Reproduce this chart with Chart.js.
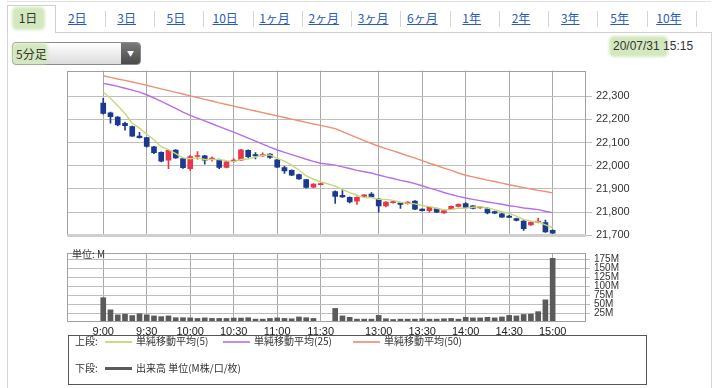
<!DOCTYPE html>
<html><head><meta charset="utf-8">
<script src="https://cdn.jsdelivr.net/npm/chart.js@4.4.1/dist/chart.umd.min.js"></script>
<style>
html,body{margin:0;padding:0;background:#fff;}
body{width:722px;height:388px;position:relative;overflow:hidden;font-family:"Noto Sans CJK JP","Liberation Sans",sans-serif;color:#333;}
.abs{position:absolute;}
.tab{position:absolute;top:10px;font-size:12px;line-height:16px;color:#2a5bb5;text-decoration:underline;white-space:nowrap;transform:translateX(-50%);}
.tab.sel{color:#333;text-decoration:none;}
.sep{position:absolute;top:11px;width:1px;height:16px;background:#d4d4d4;}
.hl{background:#d3e8bf;box-shadow:0 0 3px 2px #d3e8bf;border-radius:3px;}
canvas{position:absolute;}
.lg{position:absolute;font-size:10px;line-height:12px;color:#333;white-space:nowrap;}
.ls{position:absolute;height:2px;}
</style></head>
<body>
<!-- tab strip -->
<div class="abs" style="left:7px;top:1px;width:704px;height:1px;background:#e2e2e2"></div>
<div class="abs" style="left:7px;top:5px;width:47px;height:27px;border:1px solid #cfcfcf;border-bottom:none;background:#fff"></div>
<div class="abs hl" style="left:14px;top:9px;width:29px;height:19px"></div>
<div class="abs" style="left:55px;top:32px;width:657px;height:1px;background:#cfcfcf"></div>
<div class="abs" style="left:7px;top:32px;width:1px;height:356px;background:#d6d6d6"></div>
<div class="abs" style="left:711px;top:32px;width:1px;height:356px;background:#d6d6d6"></div>
<div id="tabs"></div>
<!-- selector -->
<div class="abs" style="left:12px;top:42px;width:127px;height:21px;border:1px solid #8a8a8a;border-radius:4px;background:linear-gradient(#ffffff,#dcdcdc);overflow:hidden">
  <div class="abs" style="right:0;top:0;width:19px;height:21px;background:linear-gradient(#7a7a7a,#4a4a4a);color:#fff;font-size:7px;line-height:21px;text-align:center">&#9660;</div>
</div>
<div class="abs hl" style="left:14px;top:45px;width:32px;height:17px"></div>
<div class="abs" style="left:16px;top:45px;font-size:12px;line-height:17px;color:#333">5分足</div>
<div class="abs hl" style="left:611px;top:38px;width:55px;height:17px"></div>
<div class="abs" style="left:613px;top:38px;font-size:12px;line-height:17px;color:#333;font-family:'Liberation Sans',sans-serif;white-space:nowrap">20/07/31&nbsp;15:15</div>

<canvas id="price" width="579" height="186" style="left:67px;top:60px;width:579px;height:186px"></canvas>
<canvas id="vol" width="579" height="96" style="left:67px;top:243px;width:579px;height:96px"></canvas>
<div class="abs" style="left:72px;top:248px;font-size:10px;line-height:12px;color:#333">単位: M</div>

<!-- legend -->
<div class="abs" style="left:68px;top:335px;width:577px;height:48px;border:1px solid #555;background:#fff"></div>
<div id="legend"></div>

<script>
// ---------- data ----------
const periodTabs = ['1日','2日','3日','5日','10日','1ヶ月','2ヶ月','3ヶ月','6ヶ月','1年','2年','3年','5年','10年'];
const timeLabels = ['9:00','9:30','10:00','10:30','11:00','11:30','13:00','13:30','14:00','14:30','15:00'];
const timeLabelSlots = [0,6,12,18,24,30,38,44,50,56,62];
const priceTicks = [21700,21800,21900,22000,22100,22200,22300];
const volumeTicks = [25,50,75,100,125,150,175];
// 5-minute slots 9:00..11:30, one empty slot, 12:30..15:00
const opens = [22270,22228,22210,22183,22169,22128,22121,22082,22058,22024,
  22068,22031,21988,22040,22043,22028,22024,21993,22020,22024,
  22067,22048,22042,22050,22026,21992,21980,21962,21940,21908,
  21919,null,21889,21873,21864,21848,21868,21878,21857,21827,
  21841,21840,21837,21848,21813,21807,21816,21797,21814,21825,
  21837,21827,21818,21814,21803,21793,21783,21773,21762,21745,
  21756,21755,21722];
const highs = [22290,22231,22212,22188,22171,22144,22123,22084,22060,22068,
  22070,22033,22045,22061,22045,22038,22029,22019,22031,22071,
  22069,22057,22056,22052,22028,21998,21982,21964,21942,21923,
  21925,null,21892,21896,21866,21866,21876,21885,21860,21846,
  21847,21842,21846,21850,21815,21823,21818,21809,21827,21836,
  21841,21829,21825,21821,21805,21795,21786,21775,21764,21760,
  21775,21766,21724];
const lows = [22222,22183,22172,22153,22126,22119,22080,22052,22017,21987,
  22032,21989,21980,22028,22007,22020,21988,21991,22016,22022,
  22035,22030,22040,22032,21992,21967,21957,21941,21904,21906,
  21918,null,21838,21864,21840,21834,21866,21864,21800,21823,
  21839,21816,21835,21811,21805,21800,21798,21795,21812,21823,
  21819,21814,21816,21793,21794,21777,21776,21762,21721,21743,
  21754,21713,21708];
const closes = [22225,22212,22176,22173,22128,22121,22083,22056,22020,22066,
  22034,21992,22040,22044,22024,22033,21993,22017,22025,22069,
  22039,22042,22048,22036,21994,21978,21959,21943,21907,21921,
  21923,null,21868,21866,21844,21864,21875,21866,21827,21844,
  21845,21834,21844,21813,21807,21821,21800,21807,21825,21834,
  21821,21816,21823,21797,21796,21779,21778,21764,21729,21756,
  21762,21715,21710];
const ma5 = [22317,22291,22259,22225,22183,22162,22136,22112,22082,22069,
  22052,22034,22030,22035,22027,22027,22027,22022,22018,22027,
  22029,22038,22045,22047,22032,22020,22003,21982,21956,21942,
  21931,null,21912,21897,21884,21873,21863,21863,21855,21855,
  21851,21843,21839,21836,21829,21824,21817,21810,21812,21817,
  21817,21821,21824,21818,21811,21802,21795,21783,21769,21761,
  21758,21745,21734];
const ma25 = [22355,22349,22342,22334,22326,22317,22306,22292,22277,22262,
  22247,22231,22217,22205,22193,22181,22169,22157,22145,22132,
  22119,22106,22093,22080,22068,22058,22048,22038,22028,22019,
  22011,null,22003,21995,21988,21980,21974,21969,21960,21952,
  21945,21937,21931,21923,21914,21904,21895,21885,21876,21868,
  21861,21855,21850,21844,21839,21834,21828,21824,21818,21815,
  21811,21804,21798];
const ma50 = [22388,22381,22374,22368,22361,22354,22347,22339,22331,22324,
  22316,22309,22301,22294,22286,22279,22271,22264,22257,22250,
  22243,22236,22229,22222,22215,22208,22201,22194,22187,22180,
  22174,null,22160,22147,22134,22121,22108,22096,22084,22074,
  22064,22054,22043,22033,22022,22011,22001,21990,21980,21969,
  21959,21952,21945,21938,21932,21925,21918,21912,21906,21900,
  21894,21889,21883];
const volumes = [68,34,20,22,18,23,20,17,15,17,
  12,12,11.5,10,11.5,10,10,10,11,11,
  12,8,8,10,11.5,10,9,14,12,10,
  1.5,null,38,17,13,8,8,8,18.5,9,
  7,8,8,8,9,8,8,9,10,8,
  13,11.5,11.5,13,11.5,14,18.5,17,21,22,
  29,62,178];

// ---------- styles ----------
const UP = '#e8374a', DOWN = '#1b3a8e';
const GRID = '#bdbdbd', VGRID = '#a9a9a9', FRAME = '#a0a0a0';

// ---------- chrome ----------
const tabsEl = document.getElementById('tabs');
periodTabs.forEach((t,i)=>{
  const s=document.createElement('span');
  s.className='tab'+(i===0?' sel':'');
  s.style.left=(28+49.3*i)+'px';
  s.textContent=t; tabsEl.appendChild(s);
  const sp=document.createElement('div'); sp.className='sep'; sp.style.left=Math.round(55.5+49.25*i)+'px';
  if(i>0) tabsEl.appendChild(sp);
});
const lgItems = [
  {t:'上段:', x:75, y:335},
  {t:'単純移動平均(5)', x:136, y:335, c:'#c9da82', lx:105},
  {t:'単純移動平均(25)', x:254, y:335, c:'#c08cf0', lx:223},
  {t:'単純移動平均(50)', x:384, y:335, c:'#f0a08c', lx:353},
  {t:'下段:', x:75, y:362},
  {t:'出来高 単位(M株/口/枚)', x:136, y:362, c:'#5a5a5a', lx:105, w:3}
];
const lgEl=document.getElementById('legend');
lgItems.forEach(it=>{
  const d=document.createElement('div'); d.className='lg'; d.style.left=it.x+'px'; d.style.top=it.y+'px'; d.textContent=it.t; lgEl.appendChild(d);
  if(it.c){const l=document.createElement('div'); l.className='ls'; l.style.left=it.lx+'px'; l.style.width='27px'; l.style.top=(it.y+6-(it.w?1:0))+'px'; l.style.height=(it.w||2)+'px'; l.style.background=it.c; lgEl.appendChild(l);}
});

// ---------- charts ----------
const framePlugin = {id:'frame', afterDraw(chart,args,opts){
  const {ctx, chartArea:a} = chart; ctx.save();
  ctx.strokeStyle = FRAME; ctx.lineWidth = 1;
  ctx.strokeRect(Math.round(a.left)+0.5, Math.round(a.top)+0.5, Math.round(a.right-a.left)-1, Math.round(a.bottom-a.top)-1);
  if(opts.bottomBand){ ctx.fillStyle='#cfcfcf'; ctx.fillRect(a.left, Math.round(a.bottom)-1, a.right-a.left, 3); }
  ctx.restore();
}};
const pts = arr => arr.map((v,i)=>({x:i, y:v}));
const bodyData=[], wickData=[], candleColors=[];
opens.forEach((o,i)=>{
  if(o===null) return;
  bodyData.push({x:i, y:[o, closes[i]]});
  wickData.push({x:i, y:[lows[i], highs[i]]});
  candleColors.push(closes[i] >= o ? UP : DOWN);
});
const xTicksFix = s => { s.ticks = timeLabelSlots.map(v=>({value:v})); };
const common = {responsive:false, animation:false, devicePixelRatio:1,
  plugins:{legend:{display:false}, tooltip:{enabled:false}}};

new Chart(document.getElementById('price'), {
  type:'bar',
  data:{datasets:[
    {type:'line', data:pts(ma5), borderColor:'#c5d877', borderWidth:1.4, pointRadius:0, spanGaps:true, tension:0, order:0},
    {type:'line', data:pts(ma25), borderColor:'#b56ee8', borderWidth:1.4, pointRadius:0, spanGaps:true, tension:0, order:1},
    {type:'line', data:pts(ma50), borderColor:'#ee8f78', borderWidth:1.4, pointRadius:0, spanGaps:true, tension:0, order:2},
    {data:bodyData, backgroundColor:candleColors, barThickness:5, grouped:false, minBarLength:1, order:3},
    {data:wickData, backgroundColor:candleColors, barThickness:1, grouped:false, order:4}
  ]},
  options:{...common,
    layout:{padding:{top:7,bottom:8,left:0,right:0}},
    plugins:{...common.plugins, frame:{bottomBand:true}},
    scales:{
      x:{type:'linear', min:-5, max:66.6, offset:false, afterBuildTicks:xTicksFix, afterFit:s=>{s.height=0;},
         grid:{color:VGRID, drawTicks:false, offset:false}, border:{display:false}, ticks:{display:false}},
      y:{position:'right', min:21700, max:22410,
         afterBuildTicks:s=>{s.ticks=priceTicks.map(v=>({value:v}));}, afterFit:s=>{s.width=60;},
         grid:{color:GRID, tickLength:6}, border:{display:false},
         ticks:{color:'#333', padding:4, autoSkip:false, font:{family:'Liberation Sans', size:11}, callback:v=>v.toLocaleString('en-US')}}
    }
  },
  plugins:[framePlugin]
});

new Chart(document.getElementById('vol'), {
  type:'bar',
  data:{datasets:[
    {data:volumes.map((v,i)=>({x:i,y:v})).filter(p=>p.y!==null), backgroundColor:'#5b5b5b', barThickness:5, grouped:false}
  ]},
  options:{...common,
    layout:{padding:{top:6,bottom:0,left:0,right:0}},
    plugins:{...common.plugins, frame:{}},
    scales:{
      x:{type:'linear', min:-5, max:66.6, offset:false, afterBuildTicks:xTicksFix, afterFit:s=>{s.height=17;},
         grid:{color:VGRID, drawTicks:false, offset:false}, border:{display:false},
         ticks:{color:'#222', padding:3, maxRotation:0, autoSkip:false, font:{family:'Liberation Sans', size:11},
           callback:v=>{const k=timeLabelSlots.indexOf(v); return k>=0?timeLabels[k]:'';}}},
      y:{position:'right', min:0, max:193,
         afterBuildTicks:s=>{s.ticks=volumeTicks.map(v=>({value:v}));}, afterFit:s=>{s.width=60;},
         grid:{color:GRID, tickLength:4}, border:{display:false},
         ticks:{color:'#333', padding:4, autoSkip:false, font:{family:'Liberation Sans', size:10}, callback:v=>v+'M'}}
    }
  },
  plugins:[framePlugin]
});
</script>
</body></html>
